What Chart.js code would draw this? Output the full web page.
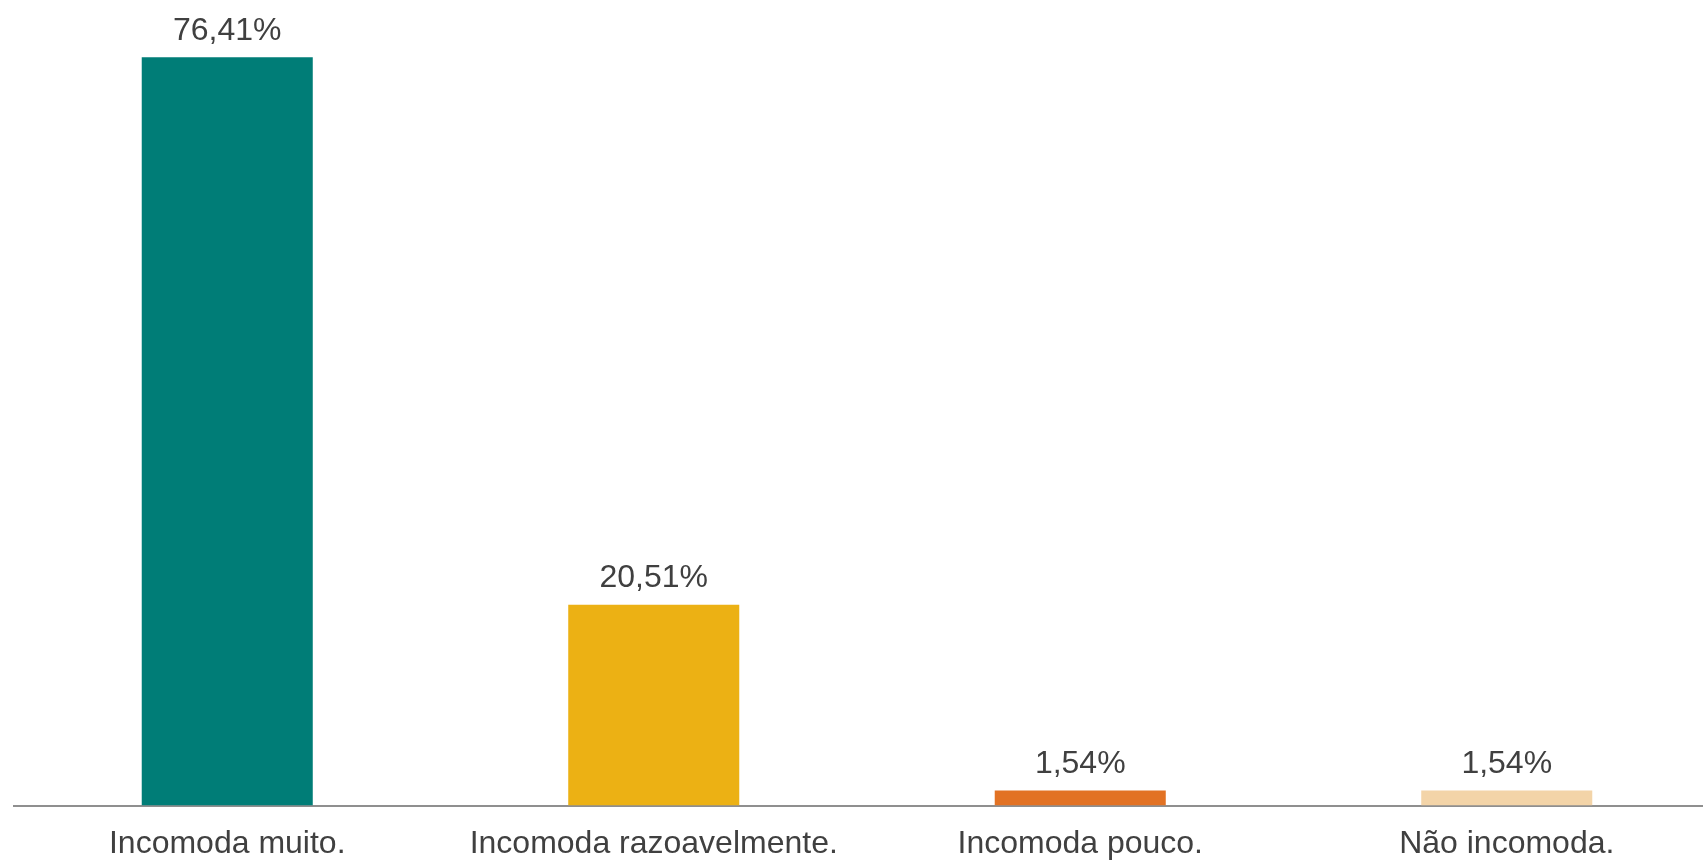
<!DOCTYPE html>
<html>
<head>
<meta charset="utf-8">
<script src="https://cdn.jsdelivr.net/npm/chart.js@4"></script>
<style>
  html, body { margin: 0; padding: 0; background: #fff; overflow: hidden; }
  #wrap { width: 1720px; height: 882px; position: relative; }
</style>
</head>
<body>
<div id="wrap"><canvas id="chart"></canvas></div>
<script>
const categories = ["Incomoda muito.", "Incomoda razoavelmente.", "Incomoda pouco.", "Não incomoda."];
const values = [76.41, 20.51, 1.54, 1.54];
const barColors = ["#007D77", "#ECB114", "#E27224", "#F3D4A8"];

const textColor = "#404040";
const fontFamily = "'Liberation Sans', Arial, sans-serif";

// value labels above each bar
const valueLabels = {
  id: "valueLabels",
  afterDatasetsDraw(chart) {
    const ctx = chart.ctx;
    const meta = chart.getDatasetMeta(0);
    ctx.save();
    ctx.font = "32px " + fontFamily;
    ctx.fillStyle = textColor;
    ctx.textAlign = "center";
    ctx.textBaseline = "alphabetic";
    meta.data.forEach((bar, i) => {
      const txt = values[i].toFixed(2).replace(".", ",") + "%";
      ctx.fillText(txt, bar.x, bar.y - 17.5);
    });
    ctx.restore();
  }
};

new Chart(document.getElementById("chart"), {
  type: "bar",
  data: {
    labels: categories,
    datasets: [{
      data: values,
      backgroundColor: barColors,
      borderWidth: 0,
      categoryPercentage: 1,
      barPercentage: 0.401
    }]
  },
  options: {
    responsive: true,
    maintainAspectRatio: false,
    animation: false,
    layout: { padding: { top: 22, left: 14, right: 0, bottom: 0 } },
    plugins: {
      legend: { display: false },
      tooltip: { enabled: false }
    },
    scales: {
      x: {
        grid: { display: false, drawTicks: false },
        border: { display: true, color: "#8f8f8f", width: 2 },
        ticks: {
          color: textColor,
          padding: 19,
          maxRotation: 0,
          font: { size: 32, family: fontFamily }
        }
      },
      y: {
        display: false,
        min: 0,
        max: 80
      }
    }
  },
  plugins: [valueLabels]
});
</script>
</body>
</html>
